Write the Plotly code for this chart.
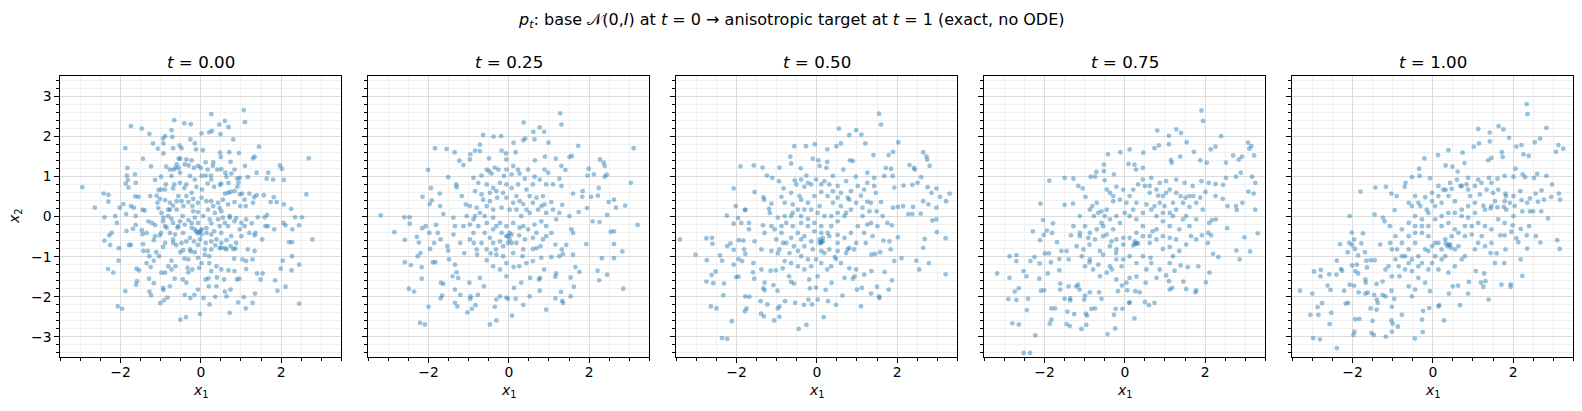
import plotly.graph_objects as go

# ---------------- data ----------------
TITLES = ["0.00", "0.25", "0.50", "0.75", "1.00"]

PTS_T000 = [
(1.07,2.65),(0.26,2.55),(1.10,2.35),(-0.66,2.40),(-0.41,2.32),(-0.25,2.30),(0.60,2.38),(0.46,2.29),(-1.74,2.25),(-1.47,2.19),
(-0.73,2.15),(0.69,2.23),(0.21,2.10),(0.28,2.13),(0.02,2.07),(-1.28,2.06),(0.49,2.05),(-0.94,1.94),(-0.89,2.00),(-0.71,1.98),
(-0.26,1.92),(0.81,1.92),(-1.19,1.82),(-0.93,1.82),(-0.53,1.77),(-0.15,1.82),(-1.88,1.70),(-1.07,1.69),(-0.69,1.70),(-0.48,1.70),
(-0.12,1.67),(0.05,1.65),(1.45,1.74),(0.48,1.59),(0.71,1.60),(0.95,1.58),(-0.93,1.57),(-1.44,1.44),(-0.55,1.44),(1.34,1.49),
(1.30,1.45),(2.69,1.45),(0.50,1.48),(-0.23,1.40),(0.12,1.35),(0.31,1.35),(0.74,1.36),(-0.40,1.30),(-0.07,1.26),(-1.24,1.25),
(-1.83,1.21),(-0.86,1.24),(-0.63,1.21),(0.30,1.26),(1.10,1.26),(0.51,1.18),(0.84,1.17),(1.97,1.27),(2.02,1.19),(1.39,1.09),
(1.68,1.09),(-1.64,1.05),(-1.84,1.02),(-0.99,0.99),(-1.14,0.91),(-0.73,1.01),(-0.52,1.09),(-0.27,1.01),(0.02,1.01),(0.25,1.02),
(0.64,0.99),(0.97,0.96),(1.17,0.98),(1.64,0.94),(1.80,0.92),(2.07,0.91),(-1.82,0.91),(-1.87,0.82),(-1.62,0.84),(-1.80,0.72),
(-2.95,0.73),(-2.42,0.57),(-2.30,0.54),(-2.30,0.37),(-2.64,0.22),(-2.40,-0.02),(-1.93,0.31),(-2.02,0.22),(-1.86,0.06),(-1.74,0.26),
(-1.67,0.22),(-2.13,0.01),(-2.09,-0.16),(-1.63,0.50),(-1.55,0.49),(-1.45,0.17),(-1.40,0.15),(-1.62,0.01),(-1.62,-0.21),(-1.85,-0.36),
(-1.69,-0.31),(-1.47,-0.34),(-1.45,-0.44),(-2.22,-0.41),(-2.28,-0.47),(-2.40,-0.60),(-2.26,-0.71),(-1.79,-0.71),(-1.74,-0.71),(-2.04,-0.79),
(-2.05,-1.10),(-1.44,-0.69),(-1.43,-0.86),(-2.31,-1.31),(-2.18,-1.40),(-1.60,-1.30),(-1.54,-1.34),(-1.88,-1.86),(-2.07,-2.24),(-1.96,-2.30),
(-1.59,-1.61),(-1.61,-1.70),(-1.29,-1.55),(-1.28,-1.87),(-1.24,-1.96),(-1.17,-1.66),(-1.01,-2.16),(-0.92,-2.09),(-0.83,-2.02),(-0.94,-1.78),
(-0.93,-1.83),(-0.77,-1.74),(-0.65,-1.55),(-0.45,-1.57),(-0.51,-2.57),(-0.37,-2.51),(-0.02,-2.43),(-0.40,-1.95),(-0.26,-2.03),(-0.16,-1.95),
(0.07,-2.03),(0.22,-2.19),(0.36,-2.00),(0.64,-1.99),(0.72,-2.40),(0.60,-1.87),(0.74,-1.82),(0.93,-2.14),(1.07,-2.01),(1.12,-2.29),
(1.29,-2.15),(1.35,-1.92),(1.91,-1.85),(2.11,-1.75),(2.45,-2.17),(1.85,-1.59),(1.54,-1.42),(1.40,-1.42),(1.49,-1.57),(1.99,-1.30),
(2.26,-1.34),(2.45,-1.20),(2.04,-1.10),(2.27,-0.99),(2.27,-0.64),(2.20,-0.64),(2.78,-0.57),(2.45,-0.22),(2.28,-0.32),(2.52,-0.02),
(2.35,-0.02),(2.11,-0.22),(2.06,-0.16),(2.63,0.55),(2.25,0.19),(2.07,0.30),(1.89,0.36),(1.82,0.48),(1.74,0.36),(1.57,0.53),
(1.39,0.53),(1.33,0.48),(1.59,-0.02),(1.65,0.04),(1.42,-0.02),(1.27,-0.17),(1.61,-0.24),(1.67,-0.24),(1.83,-0.32),(1.53,-0.57),
(1.34,-0.47),(1.36,-0.41),(1.34,-0.86),(1.17,-0.82),(1.29,-1.07),(1.13,-1.11),(1.04,-1.07),(0.83,-1.05),(0.86,-0.80),(0.69,-1.34),
(0.90,-1.57),(0.96,-1.55),(0.58,-1.57),(0.40,-1.52),(0.19,-1.54),(0.12,-1.57),(-0.04,-1.28),(0.02,-1.16),(0.21,-1.16),(0.21,-0.99),
(0.47,-0.79),(0.51,-0.78),(0.60,-0.79),(0.64,-0.82),(0.74,-0.74),(0.81,-0.81),(0.36,-0.72),(0.26,-0.82),(0.12,-0.66),(-0.07,-0.71),
(-0.17,-0.62),(-0.27,-0.82),(-0.25,-0.87),(-0.44,-0.84),(-0.51,-0.89),(-0.61,-0.71),(-0.73,-1.10),(-0.81,-1.24),(-0.73,-1.32),(-0.63,-1.24),
(-1.17,-1.10),(-1.35,-1.16),(-1.25,-1.26),(-0.98,-1.40),(-1.11,-0.89),(-1.32,-0.86),(-1.28,-0.99),(-0.94,-0.76),(-1.17,-0.59),(-1.02,-0.47),
(-0.85,-0.28),(-1.14,-0.21),(-1.31,-0.12),(-0.94,-0.12),(-0.81,0.01),(-0.98,0.09),(-1.06,0.21),(-1.08,0.34),(-1.26,0.51),(-1.10,0.52),
(-1.05,0.66),(-0.89,0.67),(-0.69,0.70),(-0.56,0.51),(-0.41,0.71),(-0.36,0.51),(-0.23,0.59),(-0.11,0.74),(0.03,0.67),(0.17,0.82),
(0.33,0.74),(0.48,0.79),(0.60,0.57),(0.74,0.61),(0.91,0.74),(1.03,0.57),(1.21,0.57),(0.84,0.36),(0.68,0.30),(1.12,0.26),
(0.98,0.26),(0.43,0.34),(0.47,0.21),(0.31,0.26),(0.14,0.38),(-0.07,0.34),(-0.21,0.26),(-0.43,0.26),(-0.60,0.17),(-0.69,0.27),
(-0.77,0.17),(-0.45,0.01),(-0.31,-0.09),(-0.15,-0.03),(-0.07,-0.16),(-0.11,-0.37),(-0.05,-0.39),(0.02,-0.45),(0.22,-0.07),(0.26,-0.17),
(0.43,-0.07),(0.55,-0.03),(0.72,0.01),(0.88,-0.04),(1.01,-0.16),(1.13,-0.07),(0.68,-0.24),(0.51,-0.41),(0.26,-0.45),(-0.44,-0.41),
(-0.64,-0.45),(-0.77,-0.41),(-0.89,-0.24),(-0.56,-0.24),(-0.69,-0.66),(-0.36,-0.62),(-0.52,-0.12),(-0.73,-0.06),(-0.23,-0.28),(0.14,-0.29),
(0.39,-0.57),(1.01,-0.49),(0.88,-0.66),(-0.21,-1.32),(-0.33,-1.28),(-0.31,-1.39),(-0.41,-1.05),(-0.31,-1.07),(0.10,-0.95),(-0.07,-1.03),
(0.51,-1.32),(0.39,-1.24),(0.84,-1.36),(1.13,-1.31),(-0.89,-1.40),(-1.04,-0.99),(-0.36,-1.65),(-0.07,-1.82),(0.20,-1.74),(0.39,-1.74),
(0.26,-1.36),
(-0.51,1.44),(-0.36,1.42),(-0.60,1.30),(-0.77,1.17),(-0.68,1.17),(-0.55,1.21),(-0.30,1.27),(-0.17,1.21),(0.00,1.21),(0.17,1.17),
(0.41,1.17),(0.61,1.09),(0.76,1.07),(0.91,0.94),(0.94,0.84),(0.69,0.84),(0.51,0.82),(0.26,0.92),(0.12,1.02),(-0.15,0.92),
(-0.36,0.80),(-0.52,0.84),(-0.66,0.80),(-0.87,0.80),(-0.98,0.67),(-1.02,0.44),(-0.89,0.41),(-0.77,0.34),(-0.60,0.38),(-0.48,0.38),
(-0.31,0.36),(-0.19,0.44),(0.02,0.47),(0.26,0.38),(0.55,0.42),(0.68,0.59),(0.84,0.63),(0.97,0.55),(1.09,0.42),(1.30,0.34),
(-0.81,0.17),(-0.93,-0.03),(-0.69,-0.16),(-0.58,-0.28),(-0.40,-0.20),(-0.23,-0.16),(0.02,-0.32),(0.14,-0.41),(0.33,-0.37),(0.47,-0.24),
(0.60,-0.16),(0.72,-0.03),(0.84,-0.12),(0.97,-0.32),(1.09,-0.24),(1.21,-0.41),(0.76,-0.49),(0.64,-0.59),(0.51,-0.66),(0.26,-0.62),
(0.10,-0.82),(-0.15,-0.89),(-0.02,-0.57),(-0.27,-0.53),(-0.48,-0.66),(-0.69,-0.57),(-0.89,-0.66),(-0.99,-0.41),(-1.14,-0.49),(-1.22,-0.16),
(-1.35,-0.41),(-0.19,0.13),(-0.07,0.11),(0.06,0.01),(0.18,0.17),(0.35,0.09),(0.51,0.13),(-0.15,-0.32),(-0.08,-0.42),(0.00,-0.36),
]

PTS_T025 = [
(1.28,2.57),(1.31,2.29),(0.37,2.34),(0.77,2.22),(0.61,2.11),(0.88,2.11),(-0.64,2.03),(-0.38,1.99),(-0.19,2.00),(0.41,1.94),
(0.36,1.90),(0.64,1.92),(0.12,1.84),(0.99,1.84),(-0.72,1.79),(1.73,1.76),(3.11,1.70),(-1.84,1.70),(-1.55,1.68),(-1.35,1.60),
(-0.84,1.64),(-0.96,1.55),(-0.72,1.63),(-0.18,1.64),(-0.07,1.57),(0.17,1.60),(1.51,1.48),(1.57,1.51),(-1.23,1.39),(-0.97,1.42),
(-0.49,1.45),(-0.06,1.42),(0.65,1.40),(0.90,1.49),(1.17,1.44),(2.27,1.42),(2.36,1.34),(2.39,1.26),(-1.13,1.28),(1.31,1.26),
(0.89,1.17),(1.41,1.16),(1.99,1.19),(1.96,1.02),(2.12,1.05),(2.44,1.04),(2.39,0.99),(-2.01,1.16),(-1.51,0.98),(-0.88,0.96),
(-0.68,1.02),(-0.49,1.13),(-0.35,1.22),(-0.12,1.01),(0.07,1.05),(0.23,1.17),(0.40,0.94),(0.64,0.99),(0.98,1.09),(1.26,0.94),
(-1.31,0.80),(-1.30,0.73),(-1.94,0.71),(-1.72,0.57),(-2.15,0.49),(-1.92,0.40),(-1.97,0.31),(-1.71,0.26),(-1.63,0.06),(-2.60,-0.02),
(-2.47,-0.02),(-3.19,0.03),(-2.47,-0.18),(-2.85,-0.39),(-2.16,-0.29),(-2.07,-0.24),(-1.81,-0.21),(-1.98,-0.41),(-1.77,-0.41),(-2.59,-0.58),
(-2.29,-0.51),(-2.24,-0.65),(-1.70,-0.57),(-1.86,-0.66),(-1.96,-0.81),(-2.20,-0.91),(-2.27,-0.99),(-2.59,-1.14),(-2.44,-1.21),(-1.89,-1.14),
(-1.83,-1.14),(-2.17,-1.26),(-2.17,-1.55),(-2.49,-1.80),(-2.36,-1.87),(-2.21,-2.65),(-2.09,-2.69),(-2.00,-2.25),(-1.69,-1.65),(-1.63,-1.68),
(-1.70,-2.04),(-1.66,-1.97),(-1.51,-0.85),(-1.53,-0.74),(-1.49,-1.07),(-1.34,-1.20),(-1.30,-1.39),(-1.40,-1.49),(-1.26,-1.53),(-1.34,-1.82),
(-1.21,-1.95),(-1.34,-2.15),(-1.28,-2.24),(-1.03,-2.39),(-0.92,-2.30),(-0.83,-2.21),(-0.95,-1.99),(-0.96,-2.05),(-0.77,-1.95),(-0.98,-1.65),
(-0.72,-1.53),(-0.62,-1.74),(-0.47,-2.69),(-0.31,-2.59),(0.08,-2.47),(-0.35,-2.25),(-0.31,-2.07),(-0.22,-1.99),(-0.06,-2.02),(-0.02,-2.05),
(0.17,-2.05),(0.36,-2.20),(0.52,-1.99),(0.77,-1.85),(0.93,-2.32),(1.16,-2.04),(1.33,-2.10),(1.35,-2.15),(1.54,-1.99),(1.62,-1.75),
(1.30,-1.88),(2.25,-1.59),(2.45,-1.45),(2.21,-1.35),(2.85,-1.80),(1.76,-1.38),(1.54,-1.52),(1.16,-1.50),(1.18,-1.42),(1.66,-1.26),
(2.32,-1.04),(2.62,-1.04),(2.83,-0.87),(2.62,-0.69),(2.54,-0.38),(2.62,-0.37),(3.21,-0.21),(1.93,-0.69),(1.60,-0.41),(1.56,-0.32),
(1.35,-0.93),(1.60,-0.95),(1.26,-0.99),(1.06,-1.01),(0.88,-1.32),(0.78,-1.53),(0.75,-1.57),(0.53,-1.53),(0.31,-1.65),(0.13,-1.78),
(-0.06,-1.49),(0.26,-1.24),(0.34,-0.99),(0.12,-1.26),(-0.06,-1.16),(-0.22,-1.32),(-0.39,-1.24),(-0.55,-1.09),(-0.45,-0.92),(-0.32,-0.82),
(-0.14,-0.74),(0.07,-0.66),(0.26,-0.47),(0.36,-0.24),(0.60,-0.81),(0.69,-0.79),(0.79,-0.74),(0.93,-0.49),(1.06,-0.41),(1.16,-0.70),
(1.43,-0.71),(1.32,-0.82),(0.93,-0.24),(1.18,-0.07),(1.26,0.09),(1.51,0.01),(1.74,0.11),(1.95,0.21),(2.09,-0.12),(2.26,-0.14),
(2.45,0.04),(2.67,0.22),(2.90,0.27),(2.49,0.36),(2.62,0.42),(2.22,0.52),(2.05,0.49),(1.83,0.49),(1.60,0.57),(1.84,0.63),
(2.24,0.71),(3.04,0.84),(1.31,0.76),(1.10,0.80),(0.85,0.51),(1.06,0.36),(1.33,0.29),(0.81,0.26),(0.60,0.34),(0.52,0.51),
(0.36,0.31),(0.19,0.51),(0.07,0.71),(-0.14,0.59),(-0.29,0.47),(-0.47,0.38),(-0.64,0.42),(-0.80,0.22),(-1.07,0.30),(-1.17,0.51),
(-0.97,0.26),(-1.05,0.01),(-0.88,-0.07),(-0.60,0.01),(-0.39,-0.03),(-0.22,-0.16),(-0.06,-0.24),(0.02,-0.41),(-0.02,-0.49),(-0.18,-0.41),
(-0.39,-0.32),(-0.60,-0.41),(-0.88,-0.41),(-1.13,-0.24),(-0.97,-0.57),(-0.87,-0.66),(-1.21,-0.66),(-1.11,-0.91),(-0.79,-0.95),(-0.39,-0.66),
(-1.38,-0.45),(-1.34,-0.24),(0.52,0.09),(0.31,0.01),(0.19,0.17),(0.64,-0.20),(0.81,-0.12),(-1.38,-0.03),
(-0.55,1.17),(-0.43,1.07),(-0.26,1.17),(-0.06,1.17),(0.11,1.26),(0.27,1.07),(0.48,1.17),(0.60,0.80),(0.77,0.92),(0.93,0.80),
(0.44,0.67),(0.23,0.80),(-0.06,0.80),(-0.22,0.84),(-0.39,0.71),(-0.55,0.80),(-0.76,0.84),(-0.84,0.63),(-0.68,0.55),(-0.47,0.59),
(-0.31,0.63),(-0.06,0.47),(0.11,0.34),(0.27,0.38),(0.69,0.47),(0.89,0.30),(1.10,0.17),(0.93,0.09),(0.73,0.17),(0.44,0.17),
(0.02,0.17),(-0.18,0.22),(-0.39,0.17),(-0.55,0.26),(-0.72,0.09),(-0.84,0.01),(-0.97,-0.20),(-0.76,-0.24),(-0.55,-0.16),(-0.31,-0.24),
(0.11,-0.16),(0.27,-0.28),(0.48,-0.32),(0.69,-0.41),(0.85,-0.57),(0.60,-0.53),(0.40,-0.57),(0.19,-0.66),(-0.02,-0.66),(-0.22,-0.62),
(-0.47,-0.53),(-0.68,-0.66),(-0.80,-0.82),(-0.55,-0.82),(-0.31,-0.95),(-0.14,-0.99),(0.11,-0.91),(0.36,-0.82),(0.44,-1.16),(0.60,-1.11),
(0.81,-1.03),(-0.06,-0.49),(0.02,-0.57),(0.07,-0.45),
]

PTS_T050 = [
(1.55,2.56),(1.60,2.29),(0.55,2.19),(0.98,2.15),(0.81,2.03),(1.11,2.04),(1.21,1.82),(2.03,1.85),(-0.56,1.75),(-0.27,1.75),
(-0.05,1.80),(0.26,1.67),(0.49,1.75),(0.60,1.82),(1.90,1.61),(2.65,1.60),(2.73,1.50),(2.75,1.42),(1.41,1.53),(1.79,1.53),
(-0.66,1.49),(-0.10,1.44),(0.04,1.40),(0.26,1.36),(0.83,1.40),(0.90,1.38),(-1.90,1.25),(-1.57,1.27),(-1.35,1.22),(-0.93,1.22),
(-0.64,1.32),(-0.40,1.20),(0.07,1.26),(0.24,1.21),(0.66,1.17),(1.72,1.21),(1.85,1.19),(2.31,1.28),(2.42,1.21),(2.44,1.17),
(2.81,1.26),(-1.24,1.02),(-1.11,0.96),(-0.94,0.88),(-0.55,0.90),(-0.26,1.02),(0.40,1.01),(0.97,0.99),(1.26,1.09),(1.43,0.96),
(1.68,1.01),(1.89,1.01),(2.60,0.98),(2.51,0.84),(2.38,0.79),(2.16,0.77),(1.93,0.72),(2.76,0.73),(2.98,0.70),(3.31,0.57),
(3.07,0.49),(2.86,0.59),(3.22,0.38),(2.65,0.38),(2.78,0.30),(2.98,0.22),(2.40,0.24),(2.15,0.26),(2.02,0.24),(1.90,0.22),
(2.59,0.07),(2.38,0.06),(2.28,0.06),(2.88,-0.10),(2.98,-0.07),(2.99,-0.39),(3.21,-0.54),(2.69,-0.56),(2.65,-0.78),(2.79,-1.16),
(3.21,-1.44),(2.48,-1.10),(2.55,-1.32),(2.11,-1.04),(1.93,-1.11),(2.02,-0.52),(1.81,-0.62),(1.87,-0.22),(1.76,-0.16),(-2.07,0.70),
(-2.02,0.26),(-2.24,0.02),(-1.78,0.17),(-1.96,-0.04),(-2.07,-0.18),(-1.88,-0.16),(-1.69,-0.32),(-3.41,-0.57),(-3.02,-0.95),(-2.75,-0.54),
(-2.61,-0.53),(-2.60,-0.68),(-2.74,-1.09),(-2.41,-0.97),(-2.36,-1.10),(-2.23,-0.74),(-2.15,-0.67),(-2.07,-0.83),(-1.94,-0.59),(-1.83,-0.60),
(-1.81,-0.82),(-1.78,-0.93),(-1.95,-1.06),(-1.86,-1.11),(-2.07,-1.20),(-2.62,-1.46),(-2.52,-1.37),(-2.75,-1.62),(-2.58,-1.66),(-2.31,-1.67),
(-2.01,-1.51),(-1.95,-1.50),(-2.33,-1.96),(-2.64,-2.24),(-2.50,-2.29),(-2.12,-2.61),(-2.36,-3.03),(-2.23,-3.05),(-1.78,-1.99),(-1.68,-2.00),
(-1.75,-2.29),(-1.79,-2.36),(-1.58,-1.16),(-1.59,-1.39),(-1.56,-1.55),(-1.40,-2.11),(-1.39,-2.42),(-1.32,-2.49),(-1.30,-1.65),(-1.33,-1.79),
(-1.30,-1.84),(-1.23,-2.19),(-1.06,-2.59),(-0.93,-2.50),(-0.93,-2.24),(-0.97,-2.29),(-0.79,-2.11),(-0.98,-1.85),(-1.08,-1.71),(-1.38,-1.32),
(-1.15,-1.35),(-1.02,-1.34),(-0.85,-1.29),(-0.69,-1.49),(-0.64,-1.63),(-0.57,-1.67),(-0.45,-2.80),(-0.26,-2.70),(0.17,-2.51),(-0.54,-2.15),
(-0.32,-2.20),(-0.21,-2.07),(-0.12,-2.19),(0.02,-2.07),(0.28,-2.11),(0.48,-2.20),(0.64,-1.97),(0.37,-1.65),(0.22,-1.83),(-0.02,-1.77),
(-0.17,-1.79),(-0.19,-1.57),(0.02,-1.49),(0.26,-1.32),(0.69,-1.53),(0.90,-1.55),(0.94,-1.49),(1.10,-2.24),(1.00,-1.82),(1.12,-1.78),
(1.35,-1.92),(1.50,-1.75),(1.55,-1.99),(1.56,-2.03),(1.79,-1.82),(1.87,-1.59),(1.69,-1.38),(1.36,-1.36),(1.18,-1.45),(0.98,-1.32),
(0.81,-1.29),(0.45,-1.01),(0.48,-1.06),(0.19,-0.91),(-0.02,-1.07),(-0.22,-1.07),(-0.47,-1.24),(-0.39,-0.99),(-0.57,-0.74),(-0.76,-0.66),
(-0.93,-0.82),(-0.97,-0.92),(-1.13,-0.86),(-1.38,-0.82),(-0.80,-1.11),(-0.64,-0.53),(-0.47,-0.41),(-0.31,-0.49),(-0.14,-0.62),(0.07,-0.57),
(0.11,-0.66),(0.15,-0.62),(0.27,-0.41),(0.52,-0.46),(0.77,-0.82),(0.81,-0.78),(0.98,-0.66),(1.22,-0.66),(1.36,-0.95),(1.45,-0.93),
(1.58,-0.89),(1.66,-0.60),(1.84,-0.82),(1.51,-0.24),(1.26,-0.20),(1.14,0.01),(1.31,0.13),(1.49,0.13),(1.60,0.36),(1.47,0.59),
(1.26,0.37),(1.10,0.52),(0.85,0.63),(0.81,0.42),(0.60,0.26),(0.69,0.01),(0.52,-0.12),(0.36,-0.24),(0.11,-0.24),(-0.06,-0.16),
(-0.22,-0.06),(-0.39,0.01),(-0.60,0.09),(-0.80,0.01),(-0.97,-0.03),(-1.13,-0.24),(-1.05,-0.32),(-0.88,-0.41),(-1.30,-0.41),(-1.34,-0.22),
(-1.17,0.09),(-1.31,0.42),(-1.33,0.48),(-1.19,0.19),(-0.88,0.49),(-1.13,0.32),(-0.80,0.34),(-0.60,0.30),(-0.39,0.42),(-0.22,0.34),
(-0.06,0.51),(0.11,0.61),(0.27,0.51),(0.40,0.34),(0.52,0.47),(-0.64,0.59),(-0.43,0.51),(-0.31,0.74),(-0.14,0.80),(0.19,0.88),
(0.52,0.76),(0.73,0.88),(-0.83,0.70),(-1.55,0.61),(-1.79,0.16),(-1.69,-0.16),(-1.55,-0.62),(0.07,0.26),(-0.39,-0.57),
(-0.51,0.80),(-0.39,0.92),(-0.22,0.84),(-0.02,0.92),(0.11,0.80),(0.31,0.80),(0.40,0.63),(0.60,0.59),(0.77,0.47),(0.98,0.34),
(1.14,0.22),(1.35,0.34),(1.18,0.67),(1.02,0.76),(1.26,0.84),(1.43,0.76),(0.85,0.17),(0.73,0.09),(0.52,0.09),(0.36,0.01),
(0.19,0.01),(0.02,0.09),(-0.14,0.17),(-0.31,0.17),(-0.47,0.17),(-0.64,0.01),(-0.76,-0.16),(-0.88,-0.24),(-0.60,-0.24),(-0.39,-0.16),
(-0.22,-0.24),(-0.06,-0.37),(0.11,-0.41),(0.31,-0.49),(0.52,-0.66),(0.69,-0.53),(0.85,-0.41),(1.02,-0.24),(1.18,-0.41),(1.39,-0.49),
(1.35,-0.16),(1.64,0.01),(0.93,-0.82),(0.73,-0.91),(0.52,-0.86),(0.31,-0.82),(0.11,-0.86),(-0.10,-0.82),(-0.31,-0.74),(-0.47,-0.86),
(-0.68,-0.91),(-0.84,-0.66),(-1.01,-0.57),(-0.64,-1.16),(-0.31,-1.32),(-0.14,-1.24),(0.11,-1.16),(0.36,-1.24),(0.60,-1.16),(0.11,-0.62),
(0.15,-0.53),(0.07,-0.66),
]

PTS_T075 = [
(1.91,2.64),(1.95,2.38),(0.81,2.14),(1.28,2.17),(1.40,2.08),(1.10,2.01),(2.40,2.00),(1.54,1.85),(1.10,1.80),(0.85,1.77),
(0.74,1.70),(0.12,1.67),(-0.11,1.60),(0.46,1.59),(-0.42,1.55),(2.26,1.74),(2.14,1.67),(1.72,1.61),(3.07,1.84),(3.15,1.75),
(3.10,1.69),(3.22,1.52),(2.92,1.49),(2.84,1.42),(2.70,1.52),(2.52,1.34),(2.04,1.34),(1.88,1.40),(1.38,1.49),(1.15,1.41),
(1.17,1.34),(0.09,1.31),(0.24,1.29),(0.28,1.17),(0.45,1.21),(-0.52,1.29),(-0.71,1.11),(-0.52,1.13),(-0.85,0.99),(-0.74,0.99),
(-0.27,1.05),(-0.50,0.90),(-1.50,0.96),(-1.28,0.94),(-1.88,0.89),(-1.16,0.76),(-1.05,0.70),(-0.98,0.49),(-1.29,0.32),(-1.50,0.29),
(-2.10,0.32),(-2.04,-0.09),(-1.79,-0.17),(-2.29,-0.37),(-2.11,-0.59),(-2.02,-0.46),(-1.94,-0.35),(-1.81,-0.41),(-1.69,-0.64),(-1.34,-0.47),
(-1.99,-0.92),(-1.89,-0.92),(-1.58,-0.86),(-1.45,-0.86),(-2.87,-0.99),(-2.70,-0.96),(-2.70,-1.11),(-2.35,-1.11),(-2.25,-1.01),(-2.12,-1.17),
(-1.84,-1.14),(-1.92,-1.42),(-1.63,-1.06),(-1.40,-1.07),(-1.63,-1.34),(-3.18,-1.42),(-2.87,-1.53),(-2.52,-1.36),(-2.45,-1.49),(-2.13,-1.55),
(-2.64,-1.79),(-2.74,-1.87),(-2.90,-2.06),(-2.70,-2.08),(-2.41,-2.05),(-2.44,-2.33),(-2.09,-1.85),(-2.01,-1.84),(-1.61,-1.67),(-1.61,-1.82),
(-1.40,-1.74),(-1.50,-2.05),(-1.36,-2.04),(-1.36,-2.09),(-2.80,-2.66),(-2.64,-2.69),(-2.23,-2.96),(-2.52,-3.40),(-2.36,-3.40),(-1.83,-2.29),
(-1.74,-2.29),(-1.83,-2.57),(-1.87,-2.67),(-1.43,-2.37),(-1.45,-2.68),(-1.37,-2.73),(-1.26,-2.43),(-1.08,-2.80),(-0.96,-2.70),(-0.94,-2.47),
(-0.97,-2.42),(-0.83,-2.30),(-0.74,-2.29),(-1.21,-1.74),(-1.16,-1.70),(-1.13,-1.82),(-1.01,-2.07),(-0.99,-1.97),(-0.87,-1.89),(-0.64,-1.89),
(-0.58,-2.05),(-0.43,-2.93),(-0.24,-2.79),(0.24,-2.54),(-0.27,-2.45),(-0.23,-2.30),(-0.06,-2.30),(0.11,-2.15),(0.12,-2.14),(0.50,-2.13),
(0.60,-2.21),(0.74,-2.15),(0.37,-1.89),(0.26,-1.86),(0.06,-1.84),(-0.17,-1.86),(-0.07,-1.72),(0.12,-1.53),(0.29,-1.50),(0.52,-1.65),
(0.79,-1.53),(1.12,-1.82),(1.18,-1.78),(1.10,-1.61),(1.03,-1.47),(1.46,-1.62),(1.53,-1.81),(1.78,-1.84),(1.76,-1.89),(2.02,-1.64),
(2.11,-1.40),(1.83,-1.24),(1.57,-1.26),(1.39,-1.22),(1.24,-1.35),(2.20,-0.93),(2.33,-1.01),(2.86,-1.07),(2.78,-0.85),(3.12,-0.87),
(2.98,-0.52),(3.31,-0.42),(3.25,0.17),(2.55,-0.29),(2.27,-0.07),(2.17,-0.09),(2.10,-0.16),(2.08,-0.41),(2.15,-0.47),(1.92,-0.47),
(2.07,-0.66),(2.77,0.26),(2.79,0.16),(2.93,0.34),(2.56,0.26),(2.44,0.44),(2.26,0.51),(2.01,0.61),(1.88,0.47),(1.71,0.51),
(1.61,0.24),(1.51,0.47),(1.39,0.51),(2.45,0.79),(2.52,0.96),(2.77,0.99),(2.89,1.09),(3.17,0.99),(3.25,0.84),(3.08,0.62),
(3.21,0.57),(2.26,0.81),(2.09,0.84),(1.91,0.88),(1.69,0.76),(1.49,0.84),(1.28,0.92),(1.03,0.88),(0.87,0.84),(0.66,0.96),
(0.50,0.76),(0.62,0.59),(0.83,0.52),(1.03,0.59),(1.20,0.34),(0.99,0.26),(0.74,0.26),(0.54,0.30),(0.29,0.34),(0.12,0.51),
(-0.04,0.67),(-0.21,0.74),(-0.37,0.59),(-0.29,0.38),(-0.45,0.17),(-0.66,0.09),(-0.77,0.01),(-0.58,0.13),(-0.81,0.26),(-0.99,-0.24),
(-1.12,-0.41),(-1.12,-0.49),(-0.91,-0.53),(-0.88,-0.70),(-0.87,-1.07),(-0.88,-1.14),(-0.62,-0.86),(-0.54,-0.95),(-0.66,-1.20),(-0.37,-1.24),
(-0.32,-1.32),(-0.22,-0.91),(-0.04,-1.07),(-0.08,-1.24),(0.21,-0.72),(0.26,-0.68),(0.33,-0.67),(0.45,-0.99),(0.64,-1.03),(0.66,-1.16),
(0.95,-0.81),(1.12,-0.76),(1.20,-0.99),(1.36,-0.86),(1.53,-0.70),(1.65,-0.49),(1.78,-0.57),(1.36,-0.32),(1.12,-0.24),(0.95,-0.12),
(0.79,-0.32),(0.69,-0.37),(0.62,-0.49),(0.45,-0.24),(0.29,-0.07),(0.12,0.01),(-0.12,-0.16),(-0.29,-0.32),(-0.45,-0.45),(-0.33,-0.62),
(-0.04,-0.53),(-0.21,-0.57),(0.95,0.09),(1.20,0.01),(1.45,-0.07),(1.53,0.01),(0.79,0.01),(-0.54,-0.24),(-0.50,0.01),
(-0.45,0.67),(-0.29,0.51),(-0.12,0.42),(0.04,0.34),(0.21,0.67),(0.33,0.80),(0.45,0.92),(0.62,0.76),(0.79,0.67),(0.95,0.51),
(1.12,0.67),(1.28,0.59),(1.45,0.34),(1.61,0.51),(1.78,0.34),(1.94,0.17),(1.28,0.17),(1.12,0.09),(0.87,0.34),(0.66,0.17),
(0.45,0.09),(0.21,0.17),(0.00,0.09),(-0.21,0.01),(-0.37,-0.07),(-0.58,-0.16),(-0.70,-0.32),(-0.87,-0.41),(-0.74,-0.57),(-0.54,-0.49),
(-0.37,-0.74),(-0.21,-0.82),(-0.04,-0.70),(0.12,-0.53),(0.29,-0.41),(0.45,-0.49),(0.62,-0.66),(0.79,-0.57),(0.95,-0.49),(1.12,-0.53),
(1.28,-0.57),(1.61,-0.24),(1.78,-0.07),(1.12,-1.16),(0.87,-1.32),(0.54,-1.32),(0.29,-1.16),(0.12,-0.99),(-0.21,-1.07),(-0.45,-1.40),
(-0.62,-1.49),(-0.79,-1.32),(-0.99,-1.24),(-1.07,-0.99),(-1.20,-0.74),(-1.03,-0.82),(-1.28,-0.24),(-1.12,0.01),(-0.87,0.17),(-0.70,0.34),
(-0.21,-1.57),(0.04,-1.65),(0.29,-0.67),(0.25,-0.62),
]

PTS_T100 = [
(2.34,2.80),(2.36,2.55),(1.64,2.25),(1.76,2.17),(1.13,2.18),(1.42,2.09),(2.83,2.21),(1.90,1.96),(2.67,1.94),(2.54,1.85),
(1.42,1.87),(1.15,1.82),(1.02,1.74),(2.08,1.74),(2.21,1.78),(3.13,1.78),(3.25,1.69),(3.07,1.61),(0.39,1.65),(0.74,1.59),
(0.13,1.53),(-0.21,1.45),(1.72,1.60),(2.26,1.55),(2.39,1.51),(1.74,1.48),(1.46,1.46),(1.38,1.40),(0.79,1.33),(0.32,1.27),
(0.49,1.24),(0.62,1.12),(-0.34,1.19),(-0.52,0.98),(-0.33,1.01),(-0.07,0.95),(-0.68,0.84),(-0.70,0.74),(-1.43,0.72),(-1.17,0.74),
(-1.80,0.62),(-1.03,0.57),(-0.90,0.51),(-0.60,0.34),(-0.95,0.16),(-1.24,-0.03),(-1.45,0.05),(-1.20,-0.12),(-1.07,-0.24),(-2.07,0.01),
(-1.74,-0.42),(-2.02,-0.40),(-1.96,-0.57),(-2.31,-0.69),(-2.08,-0.66),(-2.12,-0.89),(-2.01,-0.71),(-1.78,-0.67),(-1.94,-0.81),(-1.69,-0.89),
(-1.31,-0.70),(-1.86,-0.97),(-2.39,-1.10),(-2.58,-1.44),(-2.40,-1.45),(-2.29,-1.31),(-2.26,-1.35),(-2.96,-1.37),(-2.79,-1.33),(-2.80,-1.49),
(-2.01,-1.22),(-1.89,-1.20),(-1.93,-1.36),(-1.86,-1.42),(-1.64,-1.27),(-1.55,-1.09),(-1.45,-1.09),(-1.66,-1.10),(-2.62,-1.72),(-2.55,-1.83),
(-2.21,-1.85),(-2.07,-1.70),(-1.96,-1.72),(-1.68,-1.57),(-1.67,-1.65),(-3.31,-1.85),(-3.00,-1.92),(-2.87,-2.26),(-2.76,-2.16),(-3.05,-2.45),
(-2.85,-2.45),(-2.53,-2.40),(-2.57,-2.68),(-2.17,-2.17),(-2.11,-2.15),(-1.85,-1.89),(-1.68,-1.92),(-1.62,-1.90),(-1.40,-1.68),(-1.46,-1.95),
(-1.40,-2.07),(-1.37,-2.15),(-1.25,-1.95),(-1.18,-1.99),(-1.55,-2.29),(-1.40,-2.32),(-1.25,-1.62),(-1.03,-1.85),(-0.96,-2.05),(-1.02,-2.25),
(-0.77,-2.45),(-1.50,-2.60),(-1.03,-2.59),(-1.00,-2.67),(-1.93,-2.56),(-1.83,-2.55),(-1.95,-2.87),(-1.98,-2.95),(-1.53,-2.90),(-1.47,-2.95),
(-1.17,-2.99),(-1.02,-2.87),(-0.87,-2.74),(-2.98,-3.03),(-2.81,-3.06),(-2.39,-3.28),(-0.45,-3.04),(-0.25,-2.88),(-0.27,-2.57),(-0.24,-2.35),
(-0.09,-2.28),(0.16,-2.21),(0.14,-2.24),(0.28,-2.59),(0.68,-2.21),(0.40,-1.92),(0.50,-1.74),(0.63,-1.72),(0.88,-1.92),(0.90,-1.63),
(1.07,-1.36),(1.28,-1.42),(1.31,-1.61),(1.20,-1.65),(1.26,-1.75),(1.39,-2.07),(1.71,-1.70),(1.94,-1.69),(1.94,-1.75),(1.78,-1.16),
(1.55,-1.16),(1.44,-0.91),(1.59,-0.92),(1.81,-0.82),(2.13,-0.64),(2.19,-1.07),(2.23,-1.48),(2.35,-0.80),(2.68,-0.65),(2.57,-0.49),
(2.34,-0.47),(2.40,-0.24),(2.19,-0.31),(1.96,-0.38),(1.79,-0.47),(1.68,-0.47),(1.99,-0.22),(2.08,-0.54),(3.10,-0.59),(3.16,-0.81),
(2.87,-0.05),(2.70,0.13),(2.50,0.13),(2.42,0.45),(2.35,0.34),(2.21,0.41),(2.01,0.51),(2.18,0.63),(1.81,0.57),(1.82,0.51),
(1.55,0.38),(1.26,0.27),(1.44,0.20),(1.61,0.23),(1.77,0.24),(1.83,0.17),(2.01,0.01),(2.23,0.13),(2.42,0.13),(2.62,0.37),
(2.77,0.42),(2.95,0.49),(3.14,0.57),(3.17,0.42),(2.71,0.65),(2.56,0.57),(2.97,0.80),(2.83,1.01),(2.60,1.06),(2.52,0.96),
(2.30,0.98),(2.24,1.05),(2.06,1.19),(2.01,0.99),(1.79,1.01),(1.61,0.94),(1.40,0.96),(1.13,0.92),(0.88,0.96),(0.84,0.80),
(0.69,0.76),(0.47,0.69),(0.32,0.66),(0.14,0.76),(-0.02,0.59),(-0.19,0.48),(-0.36,0.34),(-0.52,0.26),(-0.44,0.01),(-0.27,-0.07),
(-0.11,0.09),(0.06,0.26),(0.22,0.34),(0.39,0.51),(0.55,0.38),(0.72,0.17),(0.93,0.51),(1.05,0.34),(1.17,0.55),(1.34,0.67),
(1.50,0.59),(0.88,-0.03),(0.80,-0.24),(0.97,-0.45),(1.13,-0.66),(1.30,-0.74),(1.05,-0.82),(0.80,-0.99),(0.64,-0.74),(0.43,-0.70),
(0.37,-0.74),(0.22,-0.82),(0.06,-0.66),(-0.11,-0.49),(-0.27,-0.41),(-0.44,-0.66),(-0.60,-0.82),(-0.77,-0.99),(-0.85,-1.24),(-0.69,-1.32),
(-0.52,-1.36),(-0.36,-1.53),(-0.19,-1.65),(-0.27,-1.16),(-0.02,-1.16),(0.14,-1.32),(0.22,-1.07),(0.55,-1.24),(0.39,-1.40),(0.72,-1.07),
(-0.93,-0.49),(-1.02,-0.82),(-1.06,-0.66),(-0.77,-0.32),(-0.60,-0.16),(-0.44,-0.24),(0.22,-0.24),(0.39,-0.16),(0.55,-0.32),(-0.11,-0.86),
(-0.83,-1.49),(-0.60,-1.74),(-0.52,-1.99),(-0.44,-1.82),(-0.07,-1.86),
(-0.44,0.51),(-0.31,0.26),(-0.15,0.17),(-0.02,0.38),(0.14,0.51),(0.26,0.67),(0.43,0.84),(0.60,0.92),(0.72,0.76),(0.88,0.67),
(1.05,0.76),(1.21,0.84),(1.46,0.84),(1.63,0.67),(1.79,0.38),(1.92,0.34),(2.04,0.26),(1.46,0.26),(1.30,0.17),(1.05,0.09),
(0.88,0.26),(0.72,0.01),(0.55,0.09),(0.39,0.09),(0.22,0.01),(0.06,-0.07),(-0.11,-0.24),(-0.27,-0.24),(-0.44,-0.41),(-0.60,-0.49),
(-0.77,-0.66),(-0.89,-0.82),(-0.69,-0.99),(-0.52,-1.07),(-0.36,-0.99),(-0.19,-0.82),(-0.02,-0.74),(0.14,-0.66),(0.31,-0.57),(0.47,-0.49),
(0.64,-0.41),(0.80,-0.49),(0.97,-0.24),(1.13,-0.16),(1.30,-0.24),(1.46,-0.32),(1.63,-0.07),(1.79,-0.16),(1.46,-0.66),(1.22,-0.49),
(0.55,-0.82),(0.31,-0.99),(0.06,-0.99),(-0.11,-1.32),(-0.36,-1.24),(-0.60,-1.16),(-0.93,-1.07),(-1.10,-1.24),(-1.18,-1.32),(-1.02,-1.49),
(0.39,-0.70),(0.32,-0.67),(0.45,-0.78),
]

PANELS = [PTS_T000, PTS_T025, PTS_T050, PTS_T075, PTS_T100]
X_TICKS = [-2, 0, 2]
Y_TICKS = [-3, -2, -1, 0, 1, 2, 3]

# ---------------- layout constants ----------------
W, H = 1582, 411
LEFT0, PW, STEP = 60.3, 281.0, 308.0
TOP, BOT = 76.0, 357.0
FONT = "DejaVu Sans"
BLUE = "#1f77b4"

fig = go.Figure()
layout = dict(
    width=W, height=H, autosize=False,
    margin=dict(l=0, r=0, t=0, b=0),
    paper_bgcolor="white", plot_bgcolor="white",
    showlegend=False,
    font=dict(family=FONT, size=14, color="black"),
)

annotations = []
for k, pts in enumerate(PANELS):
    n = "" if k == 0 else str(k + 1)
    xs = [p[0] for p in pts]
    ys = [p[1] for p in pts]
    fig.add_trace(go.Scatter(
        x=xs, y=ys, mode="markers",
        marker=dict(size=4.8, color=BLUE, opacity=0.45, line=dict(width=0)),
        xaxis="x" + n, yaxis="y" + n, hoverinfo="skip",
    ))
    x0 = (LEFT0 + STEP * k) / W
    x1 = (LEFT0 + STEP * k + PW) / W
    common = dict(
        range=[-3.5, 3.5], showline=True, linecolor="black", linewidth=1, mirror=True,
        ticks="outside", ticklen=5, tickwidth=1, tickcolor="black",
        showgrid=True, gridcolor="#dcdcdc", gridwidth=1, zeroline=False,
        tickfont=dict(family=FONT, size=13.9, color="black"), layer="above traces",
    )
    layout["xaxis" + n] = dict(
        common, domain=[x0, x1], anchor="y" + n,
        tickmode="array", tickvals=X_TICKS, ticklabelstandoff=-3,
        minor=dict(tickmode="linear", tick0=0, dtick=0.5, ticks="outside", ticklen=3,
                   tickwidth=0.8, tickcolor="black", showgrid=True, gridcolor="#f0f0f0"),
    )
    layout["yaxis" + n] = dict(
        common, domain=[1 - BOT / H, 1 - TOP / H], anchor="x" + n,
        tickmode="array", tickvals=Y_TICKS, showticklabels=(k == 0),
        minor=dict(tickmode="linear", tick0=0, dtick=0.2, ticks="outside", ticklen=3,
                   tickwidth=0.8, tickcolor="black", showgrid=True, gridcolor="#f0f0f0"),
    )
    cx = (LEFT0 + STEP * k + PW / 2) / W
    annotations.append(dict(
        text="<i>t</i> = " + TITLES[k], x=cx, y=1 - 62 / H, xref="paper", yref="paper",
        showarrow=False, xanchor="center", yanchor="middle",
        font=dict(family=FONT, size=16.7, color="black"),
    ))
    annotations.append(dict(
        text="<i>x</i><sub>1</sub>", x=cx, y=1 - 391 / H, xref="paper", yref="paper",
        showarrow=False, xanchor="center", yanchor="middle",
        font=dict(family=FONT, size=14, color="black"),
    ))

annotations.append(dict(
    text="<i>x</i><sub>2</sub>", x=15 / W, y=1 - 216 / H, xref="paper", yref="paper",
    showarrow=False, xanchor="center", yanchor="middle", textangle=-90,
    font=dict(family=FONT, size=14, color="black"),
))
annotations.append(dict(
    text="<i>p<sub>t</sub></i>: base 𝒩(0,<i>I</i>) at <i>t</i> = 0 → anisotropic target at <i>t</i> = 1 (exact, no ODE)",
    x=791 / W, y=1 - 20 / H, xref="paper", yref="paper",
    showarrow=False, xanchor="center", yanchor="middle",
    font=dict(family=FONT, size=16, color="black"),
))
layout["annotations"] = annotations
fig.update_layout(**layout)
fig.write_html("out.html")
